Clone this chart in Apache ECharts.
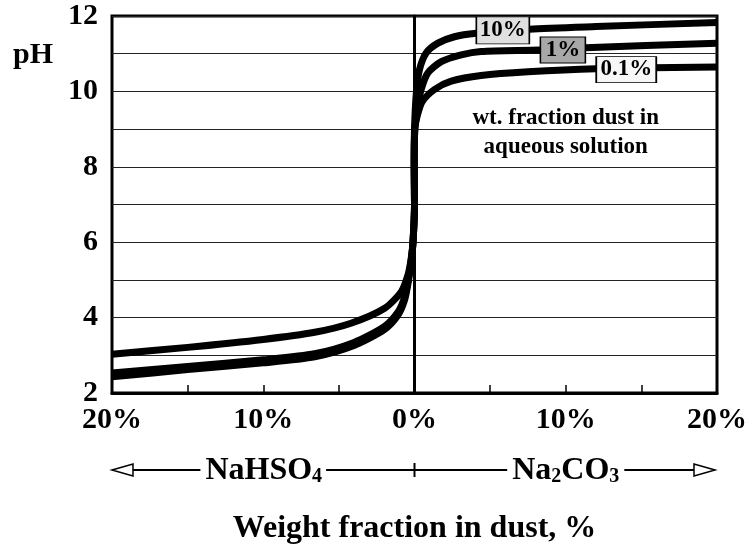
<!DOCTYPE html>
<html>
<head>
<meta charset="utf-8">
<script src="https://cdn.jsdelivr.net/npm/echarts@6/dist/echarts.min.js"></script>
<style>html,body{margin:0;padding:0;background:#fff}#c{width:751px;height:550px}</style>
</head>
<body>
<div id="c"></div>
<script>
// Weight fraction in dust (%, negative = NaHSO4 side, positive = Na2CO3 side) and pH
const x10 = [-20, -15, -10, -6.6, -4.2, -2.0, -0.88, -0.44, -0.22, -0.1, 0, -0.02, 0, 0.13, 0.33, 0.77, 1.55, 2.64, 4.09, 7.6, 12, 20];
const ph10 = [3.03, 3.21, 3.42, 3.61, 3.85, 4.24, 4.68, 5.12, 5.56, 6.0, 7.0, 8.0, 9.0, 10.0, 10.58, 11.02, 11.28, 11.45, 11.54, 11.65, 11.72, 11.83];

const x1 = [-20, -15, -10, -6.6, -4.0, -2.0, -1.1, -0.66, -0.42, -0.22, -0.1, 0, -0.02, 0.02, 0.22, 0.44, 0.88, 1.77, 3.09, 4.4, 8.3, 11.3, 20];
const ph1 = [2.53, 2.70, 2.88, 3.04, 3.34, 3.76, 4.14, 4.54, 4.99, 5.52, 6.0, 7.0, 8.0, 9.0, 9.61, 10.05, 10.49, 10.79, 10.97, 11.06, 11.1, 11.16, 11.28];

const x01 = [-20, -15, -10, -6.6, -4.0, -2.0, -1.1, -0.66, -0.42, -0.22, -0.1, 0, -0.02, 0.02, 0.15, 0.5, 1.32, 2.43, 4.4, 7.5, 12, 20];
const ph01 = [2.43, 2.62, 2.80, 2.96, 3.26, 3.68, 4.06, 4.46, 4.93, 5.46, 6.0, 7.0, 8.0, 9.0, 9.3, 9.72, 10.05, 10.27, 10.42, 10.52, 10.6, 10.65];

const seriesNames = ['10%', '1%', '0.1%'];
const xTickLabelStep = 10;
const yTickLabelStep = 2;

const FONT = "'Liberation Serif', 'Times New Roman', serif";
const chart = echarts.init(document.getElementById('c'), null, {renderer: 'canvas'});

function pairs(xs, ys) { return xs.map((x, i) => [x, ys[i]]); }

function boxLabel(coord, fill, size) {
  return {
    symbol: 'rect',
    symbolSize: size,
    itemStyle: {color: fill, borderColor: '#000', borderWidth: 1.2},
    label: {show: true, position: 'inside', formatter: p => p.name, color: '#000',
            fontFamily: FONT, fontWeight: 'bold', fontSize: 23},
    data: [{coord: coord}]
  };
}

function lineSeries(name, data, mp) {
  mp.data[0].name = name;
  return {
    type: 'line', name: name, data: data, showSymbol: false, smooth: 0.25,
    lineStyle: {color: '#000', width: 7, join: 'round', cap: 'butt'}, itemStyle: {color: '#000'},
    markPoint: mp, animation: false
  };
}

const option = {
  animation: false,
  grid: {left: 112, right: 34, top: 16, bottom: 155, show: true, borderColor: '#000', borderWidth: 3, backgroundColor: 'transparent'},
  xAxis: {
    type: 'value', min: -20, max: 20, interval: 5,
    name: 'Weight fraction in dust, %', nameLocation: 'middle', nameGap: 120,
    nameTextStyle: {fontFamily: FONT, fontWeight: 'bold', fontSize: 32, color: '#000'},
    axisLine: {show: true, lineStyle: {color: '#000', width: 3}},
    axisTick: {show: true, inside: true, length: 8, lineStyle: {color: '#000', width: 1.5}},
    axisLabel: {margin: 12, color: '#000', fontFamily: FONT, fontWeight: 'bold', fontSize: 30,
      formatter: v => (v % xTickLabelStep === 0 ? Math.abs(v) + '%' : '')},
    splitLine: {show: false}
  },
  yAxis: {
    type: 'value', min: 2, max: 12, interval: 1,
    axisLine: {show: true, lineStyle: {color: '#000', width: 3}},
    axisTick: {show: false},
    axisLabel: {margin: 14, color: '#000', fontFamily: FONT, fontWeight: 'bold', fontSize: 30,
      formatter: v => (v % yTickLabelStep === 0 ? String(v) : '')},
    splitLine: {show: true, lineStyle: {color: '#222', width: 1.2}}
  },
  series: [
    Object.assign(lineSeries(seriesNames[0], pairs(x10, ph10), boxLabel([5.84, 11.62], '#e0e0e0', [53, 27])), {
      markLine: {silent: true, symbol: 'none', label: {show: false}, lineStyle: {color: '#000', width: 1.2, type: 'solid'}, data: [{xAxis: 0}]}
    }),
    lineSeries(seriesNames[1], pairs(x1, ph1), boxLabel([9.81, 11.10], '#a8a8a8', [45, 26])),
    lineSeries(seriesNames[2], pairs(x01, ph01), boxLabel([14.0, 10.58], '#f7f7f7', [60, 26]))
  ]
};
chart.setOption(option);

// decorations tied to axis positions
const px = v => chart.convertToPixel({xAxisIndex: 0}, v);
const py = v => chart.convertToPixel({yAxisIndex: 0}, v);
const L = px(-20), R = px(20), Z = px(0);
const ay = 470;
const txtBase = {fontFamily: FONT, fontWeight: 'bold', fill: '#000'};
const richSub = {
  a: {fontFamily: FONT, fontWeight: 'bold', fontSize: 32, verticalAlign: 'bottom', lineHeight: 34},
  s: {fontFamily: FONT, fontWeight: 'bold', fontSize: 20, verticalAlign: 'bottom', lineHeight: 34}
};
chart.setOption({
  graphic: [
    {type: 'text', left: 13, top: 40, style: Object.assign({text: 'pH', fontSize: 30}, txtBase)},
    {type: 'line', shape: {x1: L + 21, y1: ay, x2: R - 23, y2: ay}, style: {stroke: '#000', lineWidth: 2}},
    {type: 'line', shape: {x1: Z, y1: ay - 7, x2: Z, y2: ay + 7}, style: {stroke: '#000', lineWidth: 2}},
    {type: 'polygon', shape: {points: [[L, ay], [L + 21, ay - 6], [L + 21, ay + 6]]}, style: {fill: '#fff', stroke: '#000', lineWidth: 1.5}},
    {type: 'polygon', shape: {points: [[R - 2, ay], [R - 23, ay - 6], [R - 23, ay + 6]]}, style: {fill: '#fff', stroke: '#000', lineWidth: 1.5}},
    {type: 'text', x: px(-10), y: ay, style: {text: '{a|NaHSO}{s|4}', rich: richSub, align: 'center', verticalAlign: 'middle', backgroundColor: '#fff', padding: [0, 4, 0, 5], fill: '#000'}},
    {type: 'text', x: px(10), y: ay, style: {text: '{a|Na}{s|2}{a|CO}{s|3}', rich: richSub, align: 'center', verticalAlign: 'middle', backgroundColor: '#fff', padding: [0, 5, 0, 5], fill: '#000'}},
    {type: 'text', x: px(10), y: py(9.28), style: Object.assign({text: 'wt. fraction dust in', fontSize: 23, align: 'center', verticalAlign: 'middle'}, txtBase)},
    {type: 'text', x: px(10), y: py(8.52), style: Object.assign({text: 'aqueous solution', fontSize: 23, align: 'center', verticalAlign: 'middle'}, txtBase)}
  ]
});
</script>
</body>
</html>
